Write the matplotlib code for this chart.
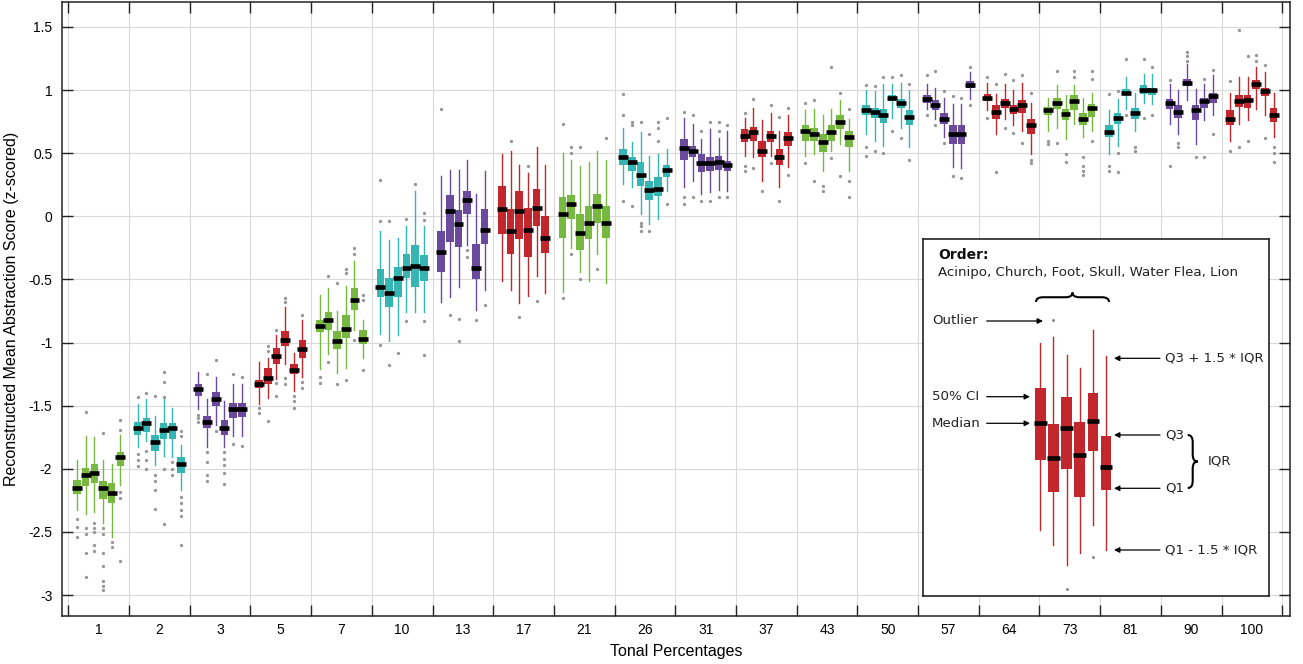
import matplotlib
matplotlib.use('Agg')
import matplotlib.pyplot as plt
from matplotlib.path import Path
from matplotlib.patches import PathPatch
import numpy as np

plt.rcParams['axes.unicode_minus'] = False
plt.rcParams['font.family'] = ['Liberation Sans', 'DejaVu Sans']

# ---------------- data ----------------
tonal_pct = ['1', '2', '3', '5', '7', '10', '13', '17', '21', '26', '31', '37',
             '43', '50', '57', '64', '73', '81', '90', '100']
stimuli = ['Acinipo', 'Church', 'Foot', 'Skull', 'Water Flea', 'Lion']
palette = ['#76b840', '#35b6b2', '#6a4a9d', '#c1272d']   # cycles over groups

median = [
    [-2.15, -2.05, -2.03, -2.15, -2.19, -1.91],
    [-1.68, -1.64, -1.79, -1.69, -1.68, -1.96],
    [-1.37, -1.63, -1.45, -1.68, -1.53, -1.53],
    [-1.33, -1.28, -1.11, -0.98, -1.22, -1.05],
    [-0.87, -0.82, -0.99, -0.89, -0.66, -0.97],
    [-0.56, -0.61, -0.49, -0.41, -0.39, -0.41],
    [-0.28, 0.04, -0.06, 0.13, -0.41, -0.11],
    [0.06, -0.12, 0.04, -0.11, 0.07, -0.17],
    [0.02, 0.10, -0.13, -0.05, 0.08, -0.05],
    [0.47, 0.43, 0.33, 0.21, 0.22, 0.37],
    [0.54, 0.52, 0.42, 0.42, 0.43, 0.41],
    [0.64, 0.67, 0.52, 0.64, 0.47, 0.62],
    [0.68, 0.65, 0.59, 0.67, 0.75, 0.63],
    [0.84, 0.83, 0.80, 0.94, 0.90, 0.79],
    [0.93, 0.88, 0.77, 0.65, 0.65, 1.04],
    [0.94, 0.83, 0.90, 0.85, 0.88, 0.72],
    [0.84, 0.90, 0.81, 0.91, 0.77, 0.86],
    [0.67, 0.78, 0.98, 0.82, 1.00, 1.00],
    [0.90, 0.83, 1.06, 0.84, 0.91, 0.95],
    [0.77, 0.91, 0.92, 1.05, 0.99, 0.80],
]
q3 = [
    [-2.09, -1.99, -1.96, -2.10, -2.11, -1.87],
    [-1.63, -1.60, -1.73, -1.64, -1.64, -1.91],
    [-1.33, -1.58, -1.39, -1.61, -1.48, -1.48],
    [-1.30, -1.20, -1.04, -0.91, -1.17, -0.98],
    [-0.82, -0.76, -0.91, -0.78, -0.57, -0.90],
    [-0.42, -0.49, -0.40, -0.30, -0.23, -0.31],
    [-0.12, 0.17, 0.05, 0.20, -0.22, 0.06],
    [0.24, 0.06, 0.20, 0.07, 0.22, 0.00],
    [0.15, 0.17, 0.02, 0.08, 0.18, 0.08],
    [0.53, 0.47, 0.43, 0.28, 0.31, 0.41],
    [0.61, 0.56, 0.49, 0.47, 0.48, 0.44],
    [0.69, 0.71, 0.60, 0.68, 0.53, 0.67],
    [0.72, 0.70, 0.65, 0.72, 0.80, 0.68],
    [0.88, 0.86, 0.85, 0.96, 0.93, 0.84],
    [0.96, 0.92, 0.82, 0.72, 0.72, 1.07],
    [0.97, 0.88, 0.93, 0.88, 0.92, 0.77],
    [0.87, 0.94, 0.85, 0.96, 0.82, 0.89],
    [0.72, 0.82, 1.01, 0.86, 1.04, 1.02],
    [0.93, 0.88, 1.09, 0.88, 0.94, 0.98],
    [0.84, 0.96, 0.96, 1.08, 1.02, 0.86],
]
q1 = [
    [-2.20, -2.14, -2.11, -2.24, -2.27, -1.98],
    [-1.73, -1.71, -1.86, -1.76, -1.76, -2.03],
    [-1.42, -1.68, -1.50, -1.73, -1.60, -1.59],
    [-1.36, -1.33, -1.17, -1.03, -1.25, -1.12],
    [-0.92, -0.90, -1.05, -0.96, -0.74, -1.01],
    [-0.64, -0.72, -0.64, -0.49, -0.56, -0.51],
    [-0.44, -0.20, -0.24, 0.02, -0.50, -0.22],
    [-0.14, -0.30, -0.18, -0.32, -0.08, -0.29],
    [-0.17, -0.02, -0.27, -0.18, -0.05, -0.17],
    [0.41, 0.36, 0.24, 0.13, 0.16, 0.31],
    [0.45, 0.47, 0.35, 0.36, 0.37, 0.36],
    [0.59, 0.60, 0.47, 0.59, 0.41, 0.56],
    [0.60, 0.60, 0.51, 0.60, 0.69, 0.55],
    [0.80, 0.78, 0.74, 0.91, 0.86, 0.72],
    [0.90, 0.84, 0.73, 0.57, 0.57, 1.02],
    [0.91, 0.77, 0.86, 0.81, 0.82, 0.65],
    [0.80, 0.85, 0.76, 0.84, 0.72, 0.79],
    [0.63, 0.73, 0.96, 0.77, 0.97, 0.96],
    [0.85, 0.78, 1.03, 0.76, 0.86, 0.90],
    [0.72, 0.87, 0.86, 1.01, 0.95, 0.75],
]
whisker_hi = [
    [-1.93, -1.74, -1.75, -1.93, -1.96, -1.73],
    [-1.49, -1.45, -1.58, -1.45, -1.52, -1.81],
    [-1.23, -1.45, -1.27, -1.46, -1.33, -1.33],
    [-1.15, -1.12, -0.94, -0.72, -1.08, -0.82],
    [-0.62, -0.57, -0.75, -0.55, -0.35, -0.82],
    [-0.12, -0.19, -0.17, -0.08, 0.20, -0.08],
    [0.32, 0.37, 0.37, 0.45, 0.18, 0.36],
    [0.49, 0.52, 0.41, 0.34, 0.55, 0.41],
    [0.50, 0.45, 0.40, 0.43, 0.52, 0.45],
    [0.70, 0.59, 0.67, 0.48, 0.49, 0.53],
    [0.78, 0.73, 0.61, 0.69, 0.62, 0.68],
    [0.78, 0.86, 0.76, 0.82, 0.68, 0.80],
    [0.84, 0.85, 0.80, 0.85, 0.92, 0.77],
    [1.00, 0.99, 1.05, 1.05, 1.06, 1.00],
    [1.05, 1.02, 0.94, 0.89, 0.89, 1.14],
    [1.06, 0.97, 1.05, 1.00, 1.06, 0.90],
    [0.94, 1.04, 0.96, 1.04, 0.94, 0.98],
    [0.84, 0.93, 1.10, 0.98, 1.13, 1.13],
    [1.05, 1.00, 1.21, 1.01, 1.05, 1.12],
    [0.98, 1.10, 1.10, 1.18, 1.14, 0.98],
]
whisker_lo = [
    [-2.33, -2.36, -2.34, -2.43, -2.54, -2.13],
    [-1.83, -1.78, -1.97, -1.90, -1.91, -2.17],
    [-1.53, -1.83, -1.65, -1.83, -1.74, -1.74],
    [-1.49, -1.44, -1.29, -1.17, -1.38, -1.27],
    [-1.21, -1.09, -1.24, -1.20, -0.90, -1.12],
    [-0.93, -0.99, -0.94, -0.76, -0.76, -0.76],
    [-0.68, -0.64, -0.56, -0.23, -0.74, -0.58],
    [-0.51, -0.58, -0.69, -0.63, -0.47, -0.61],
    [-0.60, -0.25, -0.44, -0.51, -0.30, -0.53],
    [0.26, 0.23, 0.02, -0.06, -0.02, 0.20],
    [0.23, 0.28, 0.18, 0.19, 0.21, 0.20],
    [0.48, 0.47, 0.28, 0.48, 0.23, 0.39],
    [0.48, 0.49, 0.36, 0.52, 0.57, 0.36],
    [0.65, 0.60, 0.56, 0.78, 0.70, 0.55],
    [0.85, 0.77, 0.63, 0.39, 0.38, 0.93],
    [0.84, 0.65, 0.77, 0.72, 0.68, 0.49],
    [0.68, 0.70, 0.61, 0.73, 0.63, 0.68],
    [0.49, 0.56, 0.85, 0.68, 0.90, 0.89],
    [0.73, 0.65, 0.92, 0.57, 0.76, 0.80],
    [0.60, 0.73, 0.76, 0.85, 0.80, 0.63],
]
outliers = [
    [[-2.40, -2.46, -2.54], [-1.55, -2.47, -2.52, -2.67, -2.86], [-2.43, -2.47, -2.50, -2.60, -2.65],
     [-1.72, -2.47, -2.52, -2.67, -2.77, -2.89, -2.93, -2.96], [-2.58, -2.62], [-1.61, -1.69, -2.18, -2.23, -2.73]],
    [[-1.43, -1.88, -1.93, -1.98], [-1.40, -1.86, -1.93, -2.00], [-1.42, -2.05, -2.10, -2.17, -2.32],
     [-1.23, -1.31, -1.43, -2.00, -2.44], [-1.95, -2.00, -2.05], [-1.70, -1.74, -2.22, -2.27, -2.33, -2.37, -2.60]],
    [[-1.57, -1.60, -1.63], [-1.25, -1.87, -1.95, -2.05, -2.10], [-1.14, -1.70],
     [-1.87, -1.92, -1.97, -2.03, -2.12], [-1.25, -1.80], [-1.27, -1.82]],
    [[-1.52, -1.56], [-1.03, -1.07, -1.62], [-0.90, -1.32, -1.42],
     [-0.65, -0.68, -1.28, -1.33], [-1.42, -1.46, -1.52], [-0.78, -1.31, -1.36]],
    [[-1.27, -1.32], [-0.47, -1.15], [-0.53, -1.33], [-0.42, -0.45, -1.30], [-0.30, -0.25, -0.98], [-0.62, -0.66, -1.22]],
    [[0.29, -0.04, -1.02], [-0.04, -1.18], [-1.08], [-0.02, -0.83], [0.26], [0.03, -0.03, -0.83, -1.10]],
    [[0.85], [-0.78], [-0.81, -0.99], [-0.27, -0.32], [-0.82], [-0.70]],
    [[], [0.60], [-0.80], [0.40], [-0.67], []],
    [[0.73, -0.65], [0.50, 0.55, -0.30], [0.55, -0.50], [], [-0.42], [0.62]],
    [[0.97, 0.80, 0.12], [0.75, 0.72, 0.08], [0.75, -0.05, -0.08, -0.12], [0.65, -0.12], [0.75, 0.70, 0.60], [0.78, 0.10]],
    [[0.83, 0.15, 0.10], [0.80, 0.15], [0.68, 0.12], [0.75, 0.12], [0.75, 0.68, 0.15], [0.72, 0.15]],
    [[0.82, 0.40, 0.36], [0.93, 0.38], [0.20], [0.88, 0.42], [0.79, 0.12], [0.86, 0.33]],
    [[0.90, 0.42], [0.92, 0.28], [0.24, 0.20], [1.18, 0.46], [0.98, 0.32], [0.85, 0.28, 0.15]],
    [[1.04, 0.55, 0.48], [1.03, 0.52], [1.10, 0.50], [1.10, 0.68], [1.12, 0.62], [1.05, 0.45]],
    [[1.12, 0.80], [1.15, 0.72], [0.99, 0.58], [0.95, 0.32], [0.94, 0.30], [1.18, 0.88]],
    [[1.10, 0.78], [1.05, 0.35], [1.13, 0.70], [1.08, 0.66], [1.12, 0.58], [0.98, 0.45, 0.42]],
    [[0.60, 0.57], [1.15, 0.58], [0.49, 0.43], [1.15, 1.10], [0.47, 0.40, 0.36, 0.33], [1.15, 1.09, 0.60]],
    [[0.97, 0.40, 0.36], [0.99, 0.50, 0.35], [1.25, 0.80], [0.55, 0.52], [1.25, 0.78], [1.18, 0.80]],
    [[1.08, 0.40], [0.58, 0.55], [1.30, 1.27, 1.23], [0.47], [1.09, 0.47], [1.16, 0.65]],
    [[1.07, 0.52], [1.48, 0.55], [1.27, 0.60], [1.28, 1.23], [1.20, 0.62], [0.55, 0.50, 0.43]],
]

# legend illustration (inset units)
demo_median = [172.4, 138.0, 168.0, 140.7, 174.7, 129.0]
demo_q3 = [208.0, 171.4, 199.0, 174.0, 203.0, 159.7]
demo_q1 = [135.7, 103.4, 126.7, 99.0, 145.0, 105.7]
demo_hi = [253.0, 259.0, 240.7, 228.0, 265.7, 239.7]
demo_lo = [65.7, 50.7, 30.7, 42.4, 70.7, 45.7]
demo_out = [[], [275.7], [6.4], [], [39.0], []]

# ---------------- figure ----------------
W, H = 1303, 664
fig = plt.figure(figsize=(W / 100, H / 100), dpi=100)
ax = fig.add_axes([62 / W, 1 - 616 / H, (1290 - 62) / W, (616 - 2) / H])

n_groups = len(tonal_pct)
n_box = len(stimuli)
spacing = 0.143
box_w = 0.125
med_half = 0.082

for g in range(n_groups):
    col = palette[g % 4]
    pos = [g + 1 + (j - (n_box - 1) / 2) * spacing for j in range(n_box)]
    stats = []
    for j in range(n_box):
        stats.append(dict(med=median[g][j], q1=q1[g][j], q3=q3[g][j],
                          whislo=whisker_lo[g][j], whishi=whisker_hi[g][j],
                          fliers=outliers[g][j], label=stimuli[j]))
    ax.bxp(stats, positions=pos, widths=box_w, patch_artist=True, showcaps=False,
           manage_ticks=False,
           boxprops=dict(facecolor=col, edgecolor=col, linewidth=0),
           whiskerprops=dict(color=col, linewidth=1.0),
           medianprops=dict(linewidth=0),
           flierprops=dict(marker='o', markersize=2.4, markerfacecolor='#8c8c8c',
                           markeredgecolor='none', alpha=0.9),
           zorder=3)
    ax.hlines(median[g], np.array(pos) - med_half, np.array(pos) + med_half,
              colors='black', linewidth=3.3, zorder=4)

ax.set_xlim(0.396, 20.627)
ax.set_ylim(-3.166, 1.698)

yt = np.arange(-3, 1.51, 0.5)
ax.set_yticks(yt)
ax.set_yticklabels(['%g' % v for v in yt])
ax.set_xticks(np.arange(0.5, n_groups + 0.51, 1.0))
ax.set_xticklabels([])
ax.set_xticks(np.arange(1, n_groups + 1), minor=True)
ax.set_xticklabels(tonal_pct, minor=True)
ax.tick_params(axis='both', which='major', direction='in', length=8, width=1.0,
               top=True, right=True, labelsize=10, color='#222222')
ax.tick_params(axis='y', which='major', pad=7)
ax.tick_params(axis='x', which='minor', length=0, labelsize=10, pad=5)
ax.grid(True, which='major', color='#dadada', linewidth=0.8, zorder=0)
ax.set_axisbelow(True)
for s in ax.spines.values():
    s.set_linewidth(1.1)
    s.set_color('#222222')
ax.set_xlabel('Tonal Percentages', fontsize=11.5, labelpad=5)
ax.set_ylabel('Reconstructed Mean Abstraction Score (z-scored)', fontsize=11.5, labelpad=7)

# ---------------- legend inset ----------------
IW, IH = 346.6, 356.7
lx0, ly0 = 922.7, 595.7
lax = fig.add_axes([lx0 / W, 1 - ly0 / H, IW / W, IH / H], zorder=10)
lax.set_xlim(0, IW)
lax.set_ylim(0, IH)
lax.set_xticks([])
lax.set_yticks([])
lax.set_facecolor('white')
for s in lax.spines.values():
    s.set_linewidth(1.2)
    s.set_color('#222222')

red = palette[3]
dpos = [117.6 + 13.14 * j for j in range(n_box)]
dstats = [dict(med=demo_median[j], q1=demo_q1[j], q3=demo_q3[j], whislo=demo_lo[j],
               whishi=demo_hi[j], fliers=demo_out[j]) for j in range(n_box)]
lax.bxp(dstats, positions=dpos, widths=10.7, patch_artist=True, showcaps=False,
        manage_ticks=False,
        boxprops=dict(facecolor=red, edgecolor=red, linewidth=0),
        whiskerprops=dict(color=red, linewidth=1.0),
        medianprops=dict(linewidth=0),
        flierprops=dict(marker='o', markersize=2.2, markerfacecolor='#8c8c8c',
                        markeredgecolor='none'))
lax.hlines(demo_median, np.array(dpos) - 6.3, np.array(dpos) + 6.3,
           colors='black', linewidth=3.3, zorder=4)

lfont = dict(family=['DejaVu Sans'], fontsize=9.6, color='#222222')
lax.text(15.3, 341, 'Order:', fontweight='bold', va='center', ha='left',
         family=['DejaVu Sans'], fontsize=10, color='#111111')
lax.text(15.3, 323.5, ', '.join(stimuli), va='center', ha='left', **lfont)

arrow = dict(arrowstyle='-|>', color='black', lw=0.9, mutation_scale=8,
             shrinkA=0, shrinkB=0)
left_labels = [('Outlier', 274.7, 120.3), ('50% CI', 199.0, 107.3), ('Median', 172.4, 107.3)]
for txt, yy, xend in left_labels:
    lax.text(9.3, yy, txt, va='center', ha='left', **lfont)
    lax.annotate('', xy=(xend, yy), xytext=(64, yy), arrowprops=arrow)
right_labels = [('Q3 + 1.5 * IQR', 237.4), ('Q3', 160.7), ('Q1', 107.4), ('Q1 - 1.5 * IQR', 45.7)]
for txt, yy in right_labels:
    lax.text(242.3, yy, txt, va='center', ha='left', **lfont)
    lax.annotate('', xy=(191.3, yy), xytext=(237.3, yy), arrowprops=arrow)
lax.text(285.3, 134.7, 'IQR', va='center', ha='left', **lfont)


def hbrace(a, x0, x1, yb, h, r=7):
    xm = (x0 + x1) / 2
    ym = yb + h / 2
    verts = [(x0, yb), (x0, ym), (x0 + r, ym), (xm - r, ym), (xm, ym), (xm, yb + h),
             (xm, ym), (xm + r, ym), (x1 - r, ym), (x1, ym), (x1, yb)]
    codes = [Path.MOVETO, Path.CURVE3, Path.CURVE3, Path.LINETO, Path.CURVE3, Path.CURVE3,
             Path.CURVE3, Path.CURVE3, Path.LINETO, Path.CURVE3, Path.CURVE3]
    a.add_patch(PathPatch(Path(verts, codes), fill=False, lw=1.5, edgecolor='black'))


def vbrace(a, y0, y1, xb, w, r=7):
    ym = (y0 + y1) / 2
    xm = xb + w / 2
    verts = [(xb, y0), (xm, y0), (xm, y0 + r), (xm, ym - r), (xm, ym), (xb + w, ym),
             (xm, ym), (xm, ym + r), (xm, y1 - r), (xm, y1), (xb, y1)]
    codes = [Path.MOVETO, Path.CURVE3, Path.CURVE3, Path.LINETO, Path.CURVE3, Path.CURVE3,
             Path.CURVE3, Path.CURVE3, Path.LINETO, Path.CURVE3, Path.CURVE3]
    a.add_patch(PathPatch(Path(verts, codes), fill=False, lw=1.5, edgecolor='black'))


hbrace(lax, 113.3, 186.3, 293.7, 9.5)
vbrace(lax, 107.7, 160.7, 265.0, 10.0)

fig.savefig('out.png', dpi=100)
